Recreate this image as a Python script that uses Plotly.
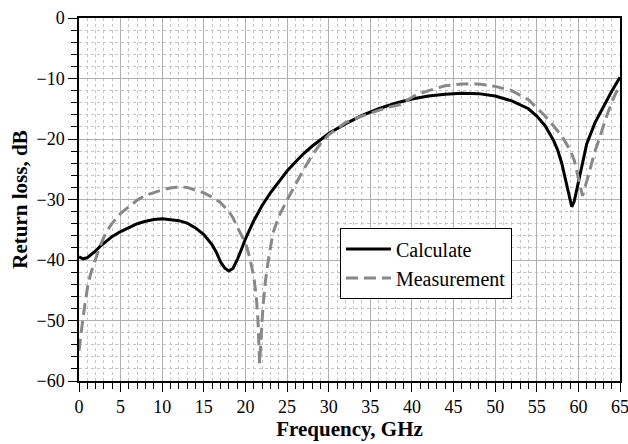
import plotly.graph_objects as go

freq_calc = [0, 0.5, 1, 1.5, 2, 2.5, 3, 4, 5, 6, 7, 8, 9, 10, 11, 12, 13, 14, 15, 16, 16.5, 17, 17.5, 18, 18.5, 19, 19.5, 20, 21, 22, 23, 24, 25, 26, 27, 28, 29, 30, 32, 34, 36, 38, 40, 42, 44, 46, 48, 50, 52, 53, 54, 55, 56, 57, 57.5, 58, 58.5, 59, 59.2, 59.5, 60, 60.5, 61, 62, 63, 64, 65]
calc_db = [-39.5, -39.8, -39.6, -39.1, -38.5, -37.8, -37.2, -36.1, -35.3, -34.6, -34.0, -33.6, -33.3, -33.2, -33.3, -33.5, -33.9, -34.7, -35.8, -37.5, -38.7, -40.3, -41.3, -41.8, -41.4, -40.0, -38.3, -36.5, -33.5, -31.0, -28.9, -27.0, -25.3, -23.8, -22.4, -21.2, -20.1, -19.1, -17.5, -16.1, -15.0, -14.1, -13.4, -12.9, -12.6, -12.45, -12.5, -12.9, -13.7, -14.3, -15.0, -16.2, -17.8, -20.2, -21.8, -24.0, -26.8, -30.0, -31.2, -30.3, -27.0, -23.5, -20.8, -17.3, -14.6, -12.1, -9.8]

freq_meas = [0, 0.25, 0.5, 0.8, 1.1, 1.4, 1.7, 2.1, 2.5, 3, 3.5, 4, 5, 6, 7, 8, 9, 10, 11, 12, 13, 14, 15, 16, 17, 18, 18.5, 19, 19.5, 20, 20.5, 21, 21.3, 21.5, 21.7, 21.9, 22.1, 22.4, 22.8, 23.3, 24, 25, 26, 27, 28, 29, 30, 32, 34, 36, 37, 38, 38.6, 39.5, 40.5, 42, 44, 46, 48, 50, 52, 54, 55, 56, 57, 58, 59, 59.5, 60, 60.5, 61.2, 61.6, 62, 62.5, 63, 63.5, 64, 64.5, 65]
meas_db = [-55.0, -52.0, -49.4, -46.5, -43.9, -42.3, -41.1, -39.3, -37.8, -36.2, -34.9, -33.9, -32.3, -31.2, -30.1, -29.3, -28.8, -28.4, -28.1, -27.9, -28.0, -28.4, -28.9, -29.6, -30.5, -32.0, -33.0, -34.5, -35.8, -37.2, -39.5, -42.8, -46.0, -49.9, -57.1, -53.0, -47.7, -43.5, -39.5, -35.6, -32.8, -30.1, -27.5, -25.0, -22.7, -20.8, -19.3, -17.3, -16.2, -15.2, -14.8, -14.5, -14.3, -13.5, -12.7, -12.0, -11.2, -10.9, -10.9, -11.3, -12.0, -13.5, -14.9, -16.2, -17.8, -19.5, -21.8, -23.5, -26.5, -29.4, -26.0, -23.8, -22.0, -20.0, -17.8, -15.8, -14.0, -12.4, -11.3]

x_ticks = [0, 5, 10, 15, 20, 25, 30, 35, 40, 45, 50, 55, 60, 65]
y_ticks = [0, -10, -20, -30, -40, -50, -60]

FONT = "Liberation Serif"

fig = go.Figure()
fig.add_trace(go.Scatter(x=freq_calc, y=calc_db, mode="lines", name="Calculate",
                         line=dict(color="black", width=3)))
fig.add_trace(go.Scatter(x=freq_meas, y=meas_db, mode="lines", name="Measurement",
                         line=dict(color="#888888", width=3, dash="12px,6px")))

axis_common = dict(
    showline=True, linecolor="black", linewidth=1.5, mirror=True,
    ticks="outside", ticklen=9, tickcolor="black", tickwidth=1,
    showgrid=True, gridcolor="#b0b0b0", gridwidth=1.4,
    zeroline=False, automargin=False, ticklabeloverflow="allow",
    tickfont=dict(family=FONT, size=18, color="black"),
)

fig.update_xaxes(
    range=[0, 65], tickvals=x_ticks,
    title=dict(text="<b>Frequency, GHz</b>", font=dict(family=FONT, size=21, color="black"), standoff=4),
    minor=dict(dtick=1, ticks="outside", ticklen=6, tickcolor="black", showgrid=True,
               gridcolor="#c4c4c4", griddash="dot", gridwidth=1),
    **axis_common,
)
fig.update_yaxes(
    range=[-60, 0], tickvals=y_ticks,
    title=dict(text="<b>Return loss, dB</b>", font=dict(family=FONT, size=21, color="black"), standoff=3),
    minor=dict(dtick=2, ticks="outside", ticklen=6, tickcolor="black", showgrid=True,
               gridcolor="#c4c4c4", griddash="dot", gridwidth=1),
    **axis_common,
)

fig.update_layout(
    width=628, height=444,
    margin=dict(l=79, r=8, t=18, b=63),
    paper_bgcolor="white", plot_bgcolor="white",
    font=dict(family=FONT, color="black"),
    legend=dict(x=0.482, y=0.421, xanchor="left", yanchor="top",
                bgcolor="white", bordercolor="black", borderwidth=1.2,
                font=dict(family=FONT, size=20, color="black"),
                itemwidth=45, tracegroupgap=0),
)

fig.write_html("out.html", config={"displayModeBar": False},
               post_script="document.body.style.margin='0';")
